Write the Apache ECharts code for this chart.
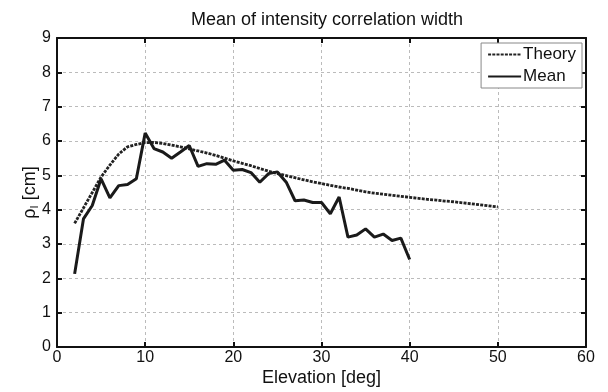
<!DOCTYPE html>
<html>
<head>
<meta charset="utf-8">
<script src="https://cdn.jsdelivr.net/npm/echarts@6/dist/echarts.min.js"></script>
<style>
  html, body { margin: 0; padding: 0; background: #fff; }
  #chart { width: 608px; height: 392px; }
</style>
</head>
<body>
<div id="chart"></div>
<script>
// elevation in degrees
var meanElev = [2,3,4,5,6,7,8,9,10,11,12,13,14,15,16,17,18,19,20,21,22,23,24,25,26,27,28,29,30,31,32,33,34,35,36,37,38,39,40];
var meanVals = [2.13,3.73,4.12,4.9,4.34,4.7,4.73,4.9,6.23,5.78,5.68,5.5,5.68,5.87,5.26,5.34,5.32,5.44,5.15,5.17,5.08,4.8,5.05,5.1,4.8,4.26,4.28,4.21,4.21,3.88,4.37,3.2,3.26,3.44,3.2,3.29,3.1,3.17,2.55];

var theoryElev = [2,3,4,5,6,7,8,9,10,11,12,13,14,15,16,17,18,19,20,21,22,23,24,25,26,27,28,29,30,31,32,33,34,35,36,37,38,39,40,41,42,43,44,45,46,47,48,49,50];
var theoryVals = [3.6,4.05,4.5,4.95,5.3,5.62,5.83,5.9,5.95,5.96,5.93,5.88,5.83,5.77,5.71,5.65,5.58,5.5,5.42,5.35,5.28,5.2,5.12,5.05,4.99,4.93,4.87,4.81,4.76,4.71,4.66,4.62,4.57,4.52,4.48,4.45,4.42,4.39,4.36,4.33,4.3,4.28,4.25,4.23,4.2,4.17,4.14,4.11,4.08];

function pairs(xs, ys) {
  return xs.map(function (x, i) { return [x, ys[i]]; });
}

var chart = echarts.init(document.getElementById('chart'));
var font = 'Liberation Sans, Arial, sans-serif';
var lbl = { color: '#111', fontSize: 16, fontFamily: font };
var nameStyle = { color: '#111', fontSize: 18, fontFamily: font };
var grid = { show: true, lineStyle: { color: '#bbb', type: [3, 3], width: 1 } };
var frame = { show: true, onZero: false, lineStyle: { color: '#111', width: 2 } };
var ticks = { show: true, inside: true, length: 5, lineStyle: { color: '#111', width: 2 } };

chart.setOption({
  animation: false,
  title: {
    text: 'Mean of intensity correlation width',
    left: 322, top: 6, textAlign: 'center',
    textStyle: { fontSize: 18, fontWeight: 'normal', color: '#111', fontFamily: font }
  },
  legend: {
    right: 26, top: 43,
    orient: 'vertical',
    backgroundColor: '#fff',
    borderColor: '#888', borderWidth: 1,
    padding: [3, 6, 3, 6],
    itemGap: 5, itemWidth: 33, itemHeight: 16,
    itemStyle: { color: 'transparent', borderColor: 'transparent', borderWidth: 0 },
    textStyle: { fontSize: 17, color: '#111', fontFamily: font, padding: [0, 0, 0, -3] },
    data: ['Theory', 'Mean']
  },
  grid: { left: 57, right: 22, top: 38, bottom: 42 },
  xAxis: [{
    type: 'value', min: 0, max: 60, interval: 10,
    name: 'Elevation [deg]', nameLocation: 'middle', nameGap: 22, nameMoveOverlap: false,
    nameTextStyle: nameStyle,
    axisLine: frame, axisTick: ticks,
    axisLabel: Object.assign({ margin: 3 }, lbl),
    splitLine: grid
  }, {
    type: 'value', min: 0, max: 60, interval: 10, position: 'top',
    axisLine: frame, axisTick: ticks,
    axisLabel: { show: false }, splitLine: { show: false }
  }],
  yAxis: [{
    type: 'value', min: 0, max: 9, interval: 1,
    name: '{r|ρ}{s|I} [cm]', nameLocation: 'middle', nameGap: 17, nameRotate: 90, nameMoveOverlap: false,
    nameTextStyle: {
      color: '#111', fontSize: 18, fontFamily: font,
      rich: {
        r: { fontSize: 18, fontFamily: font, color: '#111' },
        s: { fontSize: 11, fontFamily: font, color: '#111', verticalAlign: 'bottom', padding: [8, 0, 0, 0] }
      }
    },
    axisLine: frame, axisTick: ticks,
    axisLabel: Object.assign({ margin: 6 }, lbl),
    splitLine: grid
  }, {
    type: 'value', min: 0, max: 9, interval: 1, position: 'right',
    axisLine: frame, axisTick: ticks,
    axisLabel: { show: false }, splitLine: { show: false }
  }],
  series: [{
    name: 'Theory', type: 'line',
    data: pairs(theoryElev, theoryVals),
    symbol: 'none', showSymbol: false,
    lineStyle: { color: '#222', width: 2.8, type: [3, 1.2], cap: 'butt' },
    itemStyle: { color: 'transparent' }
  }, {
    name: 'Mean', type: 'line',
    data: pairs(meanElev, meanVals),
    symbol: 'none', showSymbol: false,
    lineStyle: { color: '#1a1a1a', width: 3 },
    itemStyle: { color: 'transparent' }
  }]
});
</script>
</body>
</html>
